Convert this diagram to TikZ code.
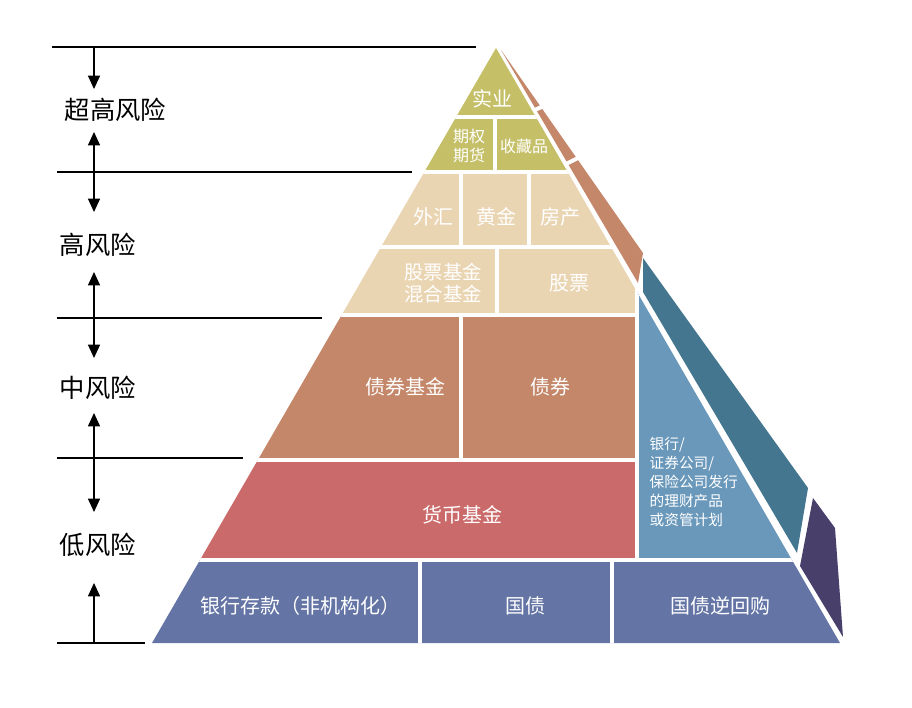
\documentclass[tikz,border=0pt]{standalone}
\usepackage{fontspec}
\setmainfont{Noto Sans CJK SC}
\usetikzlibrary{arrows.meta}
\definecolor{olive}{HTML}{C5C068}
\definecolor{beige}{HTML}{EAD5B3}
\definecolor{brownish}{HTML}{C4876A}
\definecolor{redish}{HTML}{CB6A6A}
\definecolor{bluepurple}{HTML}{6374A5}
\definecolor{lightblue}{HTML}{6A98BB}
\definecolor{teal}{HTML}{44778F}
\definecolor{purplish}{HTML}{48406B}
\tikzset{
  block/.style={draw=white, line width=3.5},
  lbl/.style={text=white, font=\fontsize{15}{17}\selectfont, align=center},
  small/.style={text=white, font=\fontsize{11}{13}\selectfont, align=center},
  risk/.style={anchor=west, font=\fontsize{19}{21}\selectfont},
  tick/.style={line width=0.9},
  arr/.style={line width=0.9, -{Triangle[length=10pt,width=9pt]}},
  darr/.style={line width=0.9, {Triangle[length=10pt,width=9pt]}-{Triangle[length=10pt,width=9pt]}}
}
\begin{document}
\begin{tikzpicture}[x=0.75pt, y=-0.75pt]

\useasboundingbox (0,0) rectangle (912,707);

% side strips
\fill[brownish] (501,50) -- (643,253) -- (638,283) -- cycle;
\draw[white, line width=3] (526,114) -- (548,104);
\draw[white, line width=3] (562,166) -- (586,154);
\fill[teal] (643,258) -- (808,488) -- (797,553) -- (643,292) -- cycle;
\fill[purplish] (813,498) -- (835,528) -- (843,637) -- (800,566) -- cycle;

% front face
\begin{scope}
\clip (496,48) -- (152,643) -- (840,643) -- cycle;
\fill[lightblue] (637,250) rectangle (1000,560);
\draw[block, fill=olive] (0,0) rectangle (1000,117);
\draw[block, fill=olive] (0,117) rectangle (495,172);
\draw[block, fill=olive] (495,117) rectangle (1000,172);
\draw[block, fill=beige] (0,172) rectangle (461,247);
\draw[block, fill=beige] (461,172) rectangle (529,247);
\draw[block, fill=beige] (529,172) rectangle (1000,247);
\draw[block, fill=beige] (0,247) rectangle (497,315);
\draw[block, fill=beige] (497,247) rectangle (637,315);
\draw[block, fill=brownish] (0,315) rectangle (461,460);
\draw[block, fill=brownish] (461,315) rectangle (637,460);
\draw[block, fill=redish] (0,460) rectangle (637,560);
\draw[white, line width=3.5] (637,315) -- (637,560);
\draw[block, fill=bluepurple] (0,560) rectangle (420,700);
\draw[block, fill=bluepurple] (420,560) rectangle (612,700);
\draw[block, fill=bluepurple] (612,560) rectangle (1000,700);
\end{scope}

% block labels
\node[lbl] (shiye) at (492,99) {实业};
\node[small, font=\fontsize{12}{14}\selectfont] (qiquan) at (469,146) {期权\\期货};
\node[small, font=\fontsize{12}{14}\selectfont] (shoucang) at (524,146) {收藏品};
\node[lbl] (waihui) at (433,217) {外汇};
\node[lbl] (huangjin) at (496,217) {黄金};
\node[lbl] (fangchan) at (560,217) {房产};
\node[lbl, font=\fontsize{14.5}{16}\selectfont] (gupiaojijin) at (443,283) {股票基金\\混合基金};
\node[lbl] (gupiao) at (569,283) {股票};
\node[lbl] (zhaiquanjijin) at (405,387) {债券基金};
\node[lbl] (zhaiquan) at (550,387) {债券};
\node[lbl] (huobi) at (462,515) {货币基金};
\node[small, align=left, anchor=north west, font=\fontsize{11}{14.3}\selectfont] (licai) at (645,432)
  {银行/\\证券公司/\\保险公司发行\\的理财产品\\或资管计划};
\node[lbl] (cunkuan) at (300,606) {银行存款（非机构化）};
\node[lbl] (guozhai) at (525,606) {国债};
\node[lbl] (nihuigou) at (720,606) {国债逆回购};

% risk scale
\coordinate (l0) at (52,47);   \coordinate (r0) at (476,47);
\coordinate (l1) at (57,172);  \coordinate (r1) at (412,172);
\coordinate (l2) at (57,318);  \coordinate (r2) at (322,318);
\coordinate (l3) at (57,458);  \coordinate (r3) at (243,458);
\coordinate (l4) at (57,643);  \coordinate (r4) at (145,643);
\foreach \i in {0,...,4} \draw[tick] (l\i) -- (r\i);

\node[risk] (chaogao) at (60,110) {超高风险};
\node[risk] (gao) at (55,245) {高风险};
\node[risk] (zhong) at (55,388) {中风险};
\node[risk] (di) at (55,545) {低风险};

\coordinate (a0) at (94,47);  \coordinate (b0) at (94,89);
\coordinate (a1) at (94,132); \coordinate (b1) at (94,212);
\coordinate (a2) at (94,272); \coordinate (b2) at (94,358);
\coordinate (a3) at (94,413); \coordinate (b3) at (94,512);
\coordinate (a4) at (94,643); \coordinate (b4) at (94,583);
\draw[arr] (a0) -- (b0);
\draw[darr] (a1) -- (b1);
\draw[darr] (a2) -- (b2);
\draw[darr] (a3) -- (b3);
\draw[arr] (a4) -- (b4);

\end{tikzpicture}
\end{document}
